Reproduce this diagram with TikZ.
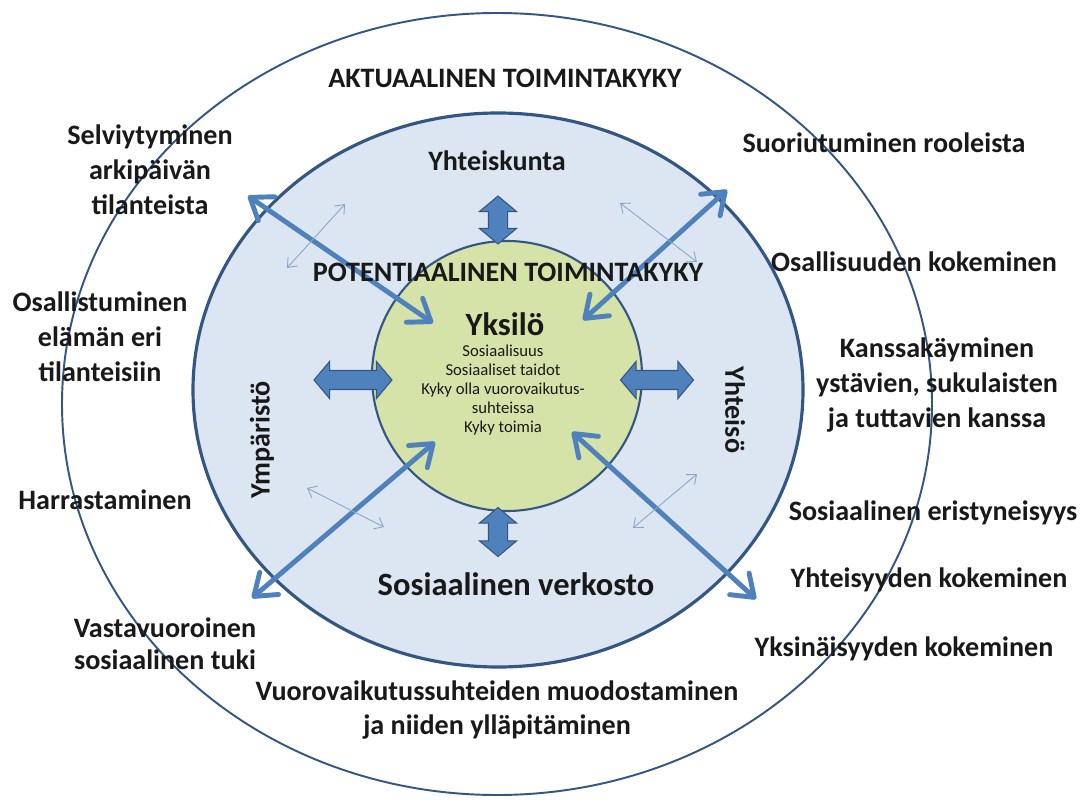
\documentclass[tikz,border=0pt]{standalone}
\usepackage{fontspec}
\setmainfont{Carlito}
\usetikzlibrary{shapes.arrows,arrows.meta,positioning}

\definecolor{ringblue}{RGB}{52,86,130}
\definecolor{fillblue}{RGB}{220,230,242}
\definecolor{fillgreen}{RGB}{214,227,168}
\definecolor{arrowblue}{RGB}{79,129,189}
\definecolor{thinblue}{RGB}{140,165,200}
\definecolor{txt}{RGB}{25,25,25}

\begin{document}
\begin{tikzpicture}[x=0.02cm, y=0.02cm,
  lbl/.style={font=\fontsize{16}{19.8}\selectfont\bfseries, text=txt, align=center, inner sep=0pt},
  inlbl/.style={font=\fontsize{9.5}{10.8}\selectfont, text=txt, align=center, inner sep=0pt},
  bigarrow/.style={draw=arrowblue, line width=2.8pt, {Straight Barb[length=4mm,width=5.8mm,round]}-{Straight Barb[length=4mm,width=5.8mm,round]}},
  thinarrow/.style={draw=thinblue, line width=0.5pt, {Straight Barb[length=1.6mm,width=2.6mm]}-{Straight Barb[length=1.6mm,width=2.6mm]}},
  blockarrow/.style={double arrow, draw=ringblue, fill=arrowblue, line width=0.6pt, inner xsep=0pt, inner ysep=0.18cm, double arrow head extend=0.18cm, double arrow tip angle=100}]
\useasboundingbox (0,0) rectangle (1084,-800);
\fill [white] (0,0) rectangle (1084,-800);

% rings
\draw [ringblue, line width=1.1pt] (497,-404) ellipse (435 and 391);
\draw [ringblue, line width=1.8pt, fill=fillblue] (498,-390) ellipse (305 and 277);
\draw [ringblue, line width=1.2pt, fill=fillgreen] (507,-376) circle (135);

% block arrows
\node [blockarrow, rotate=90, minimum height=0.96cm] (btop) at (498,-220) {};
\node [blockarrow, rotate=90, minimum height=0.98cm] (bbot) at (498,-532) {};
\node [blockarrow, minimum height=1.56cm] (bleft) at (353,-380) {};
\node [blockarrow, minimum height=1.46cm] (bright) at (657,-380) {};

% long arrows
\coordinate (ul1) at (248,-196);
\coordinate (ul2) at (433,-323);
\coordinate (ur1) at (727,-190);
\coordinate (ur2) at (583,-320);
\coordinate (ll1) at (252,-598);
\coordinate (ll2) at (435,-442);
\coordinate (lr1) at (756,-599);
\coordinate (lr2) at (572,-432);
\draw [bigarrow] (ul1) -- (ul2);
\draw [bigarrow] (ur1) -- (ur2);
\draw [bigarrow] (ll1) -- (ll2);
\draw [bigarrow] (lr1) -- (lr2);

% thin arrows
\coordinate (t1a) at (287,-268);
\coordinate (t1b) at (345,-204);
\coordinate (t2a) at (620,-203);
\coordinate (t2b) at (697,-262);
\coordinate (t3a) at (307,-488);
\coordinate (t3b) at (384,-527);
\coordinate (t4a) at (633,-528);
\coordinate (t4b) at (697,-474);
\draw [thinarrow] (t1a) -- (t1b);
\draw [thinarrow] (t2a) -- (t2b);
\draw [thinarrow] (t3a) -- (t3b);
\draw [thinarrow] (t4a) -- (t4b);

% inner labels
\node [lbl] (yhteiskunta) at (497,-161) {Yhteiskunta};
\node [lbl] (potent) at (508,-272) {POTENTIAALINEN TOIMINTAKYKY};
\node [lbl, font=\fontsize{18.5}{20}\selectfont\bfseries] (yksilo) at (505,-324) {Yksilö};
\node [inlbl] (piirteet) at (503,-390) {Sosiaalisuus\\Sosiaaliset taidot\\Kyky olla vuorovaikutus-\\suhteissa\\Kyky toimia};
\node [lbl, font=\fontsize{18.5}{20}\selectfont\bfseries] (verkosto) at (516,-584) {Sosiaalinen verkosto};
\node [lbl, rotate=90] (ymparisto) at (262,-440) {Ympäristö};
\node [lbl, rotate=-90] (yhteiso) at (735,-410) {Yhteisö};

% outer labels
\node [lbl] (aktuaal) at (505,-78) {AKTUAALINEN TOIMINTAKYKY};
\node [lbl] (selviyt) at (150,-170) {Selviytyminen\\arkipäivän\\tilanteista};
\node [lbl] (suoriut) at (884,-143) {Suoriutuminen rooleista};
\node [lbl] (osallisuus) at (914,-262) {Osallisuuden kokeminen};
\node [lbl] (osallist) at (100,-337) {Osallistuminen\\elämän eri\\tilanteisiin};
\node [lbl] (kanssa) at (937,-385) {Kanssakäyminen\\ystävien, sukulaisten\\ja tuttavien kanssa};
\node [lbl] (harrast) at (105,-500) {Harrastaminen};
\node [lbl] (eristyn) at (933,-513) {Sosiaalinen eristyneisyys};
\node [lbl] (yhteisyys) at (929,-580) {Yhteisyyden kokeminen};
\node [lbl, font=\fontsize{16}{18}\selectfont\bfseries] (vastav) at (165,-644) {Vastavuoroinen\\sosiaalinen tuki};
\node [lbl] (yksinais) at (904,-649) {Yksinäisyyden kokeminen};
\node [lbl] (vuorov) at (497,-710) {Vuorovaikutussuhteiden muodostaminen\\ja niiden ylläpitäminen};
\end{tikzpicture}
\end{document}
